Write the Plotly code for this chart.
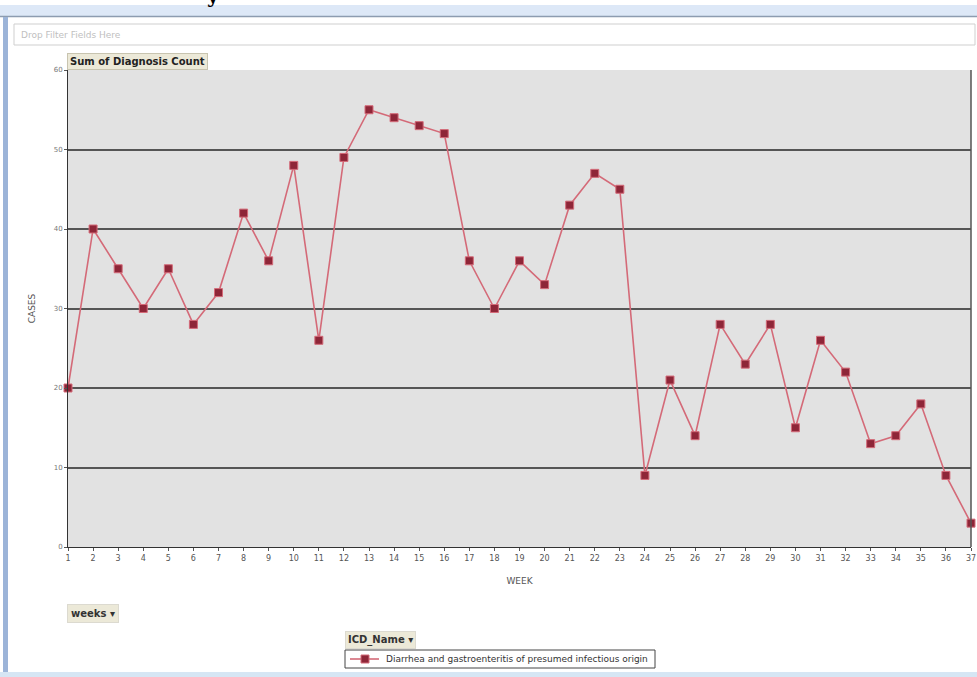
import plotly.graph_objects as go

weeks = list(range(1, 38))
week_labels = [str(w) for w in weeks]
cases = [20, 40, 35, 30, 35, 28, 32, 42, 36, 48, 26, 49, 55, 54, 53, 52, 36, 30, 36, 33,
         43, 47, 45, 9, 21, 14, 28, 23, 28, 15, 26, 22, 13, 14, 18, 9, 3]
series_name = "Diarrhea and gastroenteritis of presumed infectious origin"
y_ticks = [0, 10, 20, 30, 40, 50, 60]

W, H = 977, 677
L, R, T, B = 68, 971, 70, 547

LINE_C = "#d46a78"
MARK_C = "#8e2638"


def px(x):
    return (x - L) / (R - L)


def py(y):
    return (B - y) / (B - T)


def rect(x0, y0, x1, y1, fill, line_c=None, lw=0, layer="below"):
    return dict(type="rect", xref="paper", yref="paper", x0=px(x0), x1=px(x1), y0=py(y1), y1=py(y0),
                fillcolor=fill, line=dict(color=line_c or fill, width=lw), layer=layer)


fig = go.Figure()
fig.add_trace(go.Scatter(
    x=weeks, y=cases, mode="lines+markers", name=series_name,
    line=dict(color=LINE_C, width=1.6),
    marker=dict(symbol="square", size=8, color=MARK_C, line=dict(color=LINE_C, width=1)),
    cliponaxis=False, showlegend=False,
))

shapes = [
    # window chrome
    rect(0, 5, W, 16, "#dde8f7"),
    dict(type="line", xref="paper", yref="paper", x0=px(0), x1=px(W), y0=py(16.5), y1=py(16.5),
         line=dict(color="#8d9cb0", width=1.5), layer="below"),
    rect(3, 17, 8, H, "#9cb4d8"),
    rect(0, 672, W, H, "#d6e6f4"),
    # drop filter box
    rect(14, 24, 975, 45, "#ffffff", "#cfcfcf", 1),
    # right plot border
    dict(type="line", xref="paper", yref="paper", x0=1, x1=1, y0=0, y1=1,
         line=dict(color="#555555", width=1.5)),
    # legend box and swatch
    rect(345, 650, 655, 668, "#ffffff", "#444444", 1, layer="above"),
    dict(type="line", xref="paper", yref="paper", x0=px(350), x1=px(379), y0=py(659), y1=py(659),
         line=dict(color=LINE_C, width=1.6)),
    rect(361, 655, 369, 663, MARK_C, LINE_C, 1, layer="above"),
]

annotations = [
    dict(text="Drop Filter Fields Here", xref="paper", yref="paper", x=px(19), y=py(35),
         xanchor="left", yanchor="middle", showarrow=False,
         font=dict(family="DejaVu Sans", size=9, color="#c0c0c0")),
    dict(text="<b>Sum of Diagnosis Count</b>", xref="paper", yref="paper", x=px(67), y=py(61),
         xanchor="left", yanchor="middle", showarrow=False, bgcolor="#ece9d8",
         bordercolor="#c8c4b0", borderwidth=1, borderpad=2,
         font=dict(family="DejaVu Sans", size=10, color="#222222")),
    dict(text="<b>weeks ▾</b>", xref="paper", yref="paper", x=px(67), y=py(613),
         xanchor="left", yanchor="middle", showarrow=False, bgcolor="#ece9d8",
         bordercolor="#dcdad0", borderwidth=1, borderpad=3,
         font=dict(family="DejaVu Sans", size=10, color="#333333")),
    dict(text="<b>ICD_Name ▾</b>", xref="paper", yref="paper", x=px(345), y=py(640),
         xanchor="left", yanchor="middle", showarrow=False, bgcolor="#ece9d8",
         bordercolor="#dcdad0", borderwidth=1, borderpad=2,
         font=dict(family="DejaVu Sans", size=10, color="#333333")),
    dict(text=series_name, xref="paper", yref="paper", x=px(384), y=py(659),
         xanchor="left", yanchor="middle", showarrow=False,
         font=dict(family="DejaVu Sans", size=9, color="#333333")),
    dict(text="<b>y</b>", xref="paper", yref="paper", x=px(213), y=py(10),
         xanchor="center", yanchor="bottom", showarrow=False,
         font=dict(family="DejaVu Serif", size=20, color="#000000")),
]

fig.update_layout(
    width=W, height=H,
    margin=dict(l=L, r=W - R, t=T, b=H - B, autoexpand=False),
    paper_bgcolor="#ffffff",
    plot_bgcolor="#e2e2e2",
    showlegend=False,
    xaxis=dict(range=[1, 37], tickmode="array", tickvals=weeks, ticktext=week_labels,
               showgrid=False, zeroline=False, showline=True, linecolor="#333333", linewidth=1,
               ticks="outside", ticklen=3, tickcolor="#555555",
               tickfont=dict(family="DejaVu Sans", size=8, color="#555555"),
               title=dict(text="WEEK", standoff=16,
                          font=dict(family="DejaVu Sans", size=9, color="#555555"))),
    yaxis=dict(range=[0, 60], tickmode="array", tickvals=y_ticks,
               showgrid=True, gridcolor="#555555", gridwidth=1.5, zeroline=False,
               showline=True, linecolor="#333333", linewidth=1,
               ticks="outside", ticklen=3, tickcolor="#555555",
               tickfont=dict(family="DejaVu Sans", size=7, color="#777777"),
               title=dict(text="CASES", standoff=16,
                          font=dict(family="DejaVu Sans", size=9, color="#555555"))),
    shapes=shapes,
    annotations=annotations,
)

fig.write_html("out.html", config={"displayModeBar": False},
               post_script="document.body.style.margin='0';document.body.style.overflow='hidden';")
